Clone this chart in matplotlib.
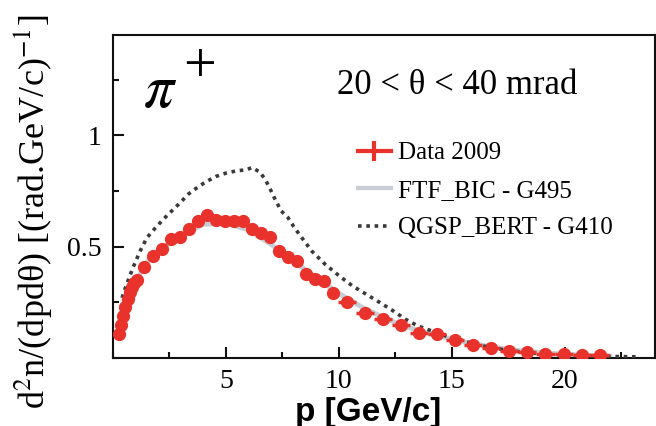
import numpy as np
import matplotlib.pyplot as plt
from matplotlib.lines import Line2D
from matplotlib.ticker import MultipleLocator

plt.rcParams['font.family'] = ['Liberation Serif', 'DejaVu Serif']
plt.rcParams['mathtext.fontset'] = 'stix'

# measured pi+ spectrum, 20 < theta < 40 mrad
p_data = [0.25, 0.35, 0.45, 0.55, 0.65, 0.75, 0.85, 0.95, 1.05,
          1.35, 1.75, 2.15, 2.55, 2.95, 3.35, 3.75, 4.15, 4.55, 4.95,
          5.35, 5.75, 6.15, 6.55, 6.95, 7.35, 7.75, 8.15, 8.55, 8.95,
          9.35, 9.75, 10.35, 11.15, 11.95, 12.75, 13.55, 14.35, 15.15,
          15.95, 16.75, 17.55, 18.35, 19.15, 19.95, 20.75, 21.55]
dn_data = [0.110, 0.150, 0.190, 0.230, 0.265, 0.295, 0.320, 0.335, 0.350,
           0.410, 0.460, 0.490, 0.535, 0.545, 0.577, 0.614, 0.640, 0.620, 0.614,
           0.617, 0.617, 0.580, 0.560, 0.545, 0.480, 0.452, 0.437, 0.375, 0.355,
           0.345, 0.294, 0.252, 0.203, 0.177, 0.150, 0.114, 0.108, 0.082,
           0.060, 0.045, 0.033, 0.026, 0.020, 0.018, 0.014, 0.012]
p_halfbin = [0.05] * 9 + [0.2] * 22 + [0.4] * 15
dn_err = [0.012] * 9 + [0.015] * 22 + [0.008] * 15

# FTF_BIC (Geant4 9.5)
p_ftf = [0.2, 0.5, 1.0, 1.5, 2.0, 3.0, 4.0, 5.0, 6.0, 7.0, 8.0, 9.0, 10.0,
         11.0, 12.0, 13.0, 14.0, 15.0, 16.0, 17.0, 18.0, 19.0, 20.0, 21.0, 22.0]
dn_ftf = [0.10, 0.22, 0.34, 0.43, 0.48, 0.55, 0.60, 0.605, 0.575, 0.51, 0.435,
          0.36, 0.29, 0.23, 0.18, 0.14, 0.11, 0.085, 0.063, 0.046, 0.033,
          0.024, 0.017, 0.012, 0.008]

# QGSP_BERT (Geant4 4.10)
p_qgsp = [0.4, 0.6, 0.9, 1.2, 1.5, 1.9, 2.25, 2.6, 3.0, 3.35, 3.75, 4.1, 4.55,
          5.0, 5.45, 5.9, 6.15, 6.5, 6.75, 7.0, 7.2, 7.45, 7.75, 8.0, 8.25,
          8.8, 9.4, 10.0, 10.6, 11.2, 11.8, 12.4, 12.95, 13.5, 14.1, 14.7,
          15.3, 16.0, 17.0, 18.0, 19.0, 20.0, 21.0, 22.0, 23.3]
dn_qgsp = [0.27, 0.33, 0.41, 0.48, 0.54, 0.587, 0.625, 0.66, 0.70, 0.737, 0.767,
           0.79, 0.815, 0.83, 0.84, 0.845, 0.855, 0.835, 0.80, 0.75, 0.707, 0.66,
           0.63, 0.59, 0.555, 0.48, 0.42, 0.37, 0.324, 0.287, 0.25, 0.212,
           0.174, 0.144, 0.122, 0.10, 0.084, 0.062, 0.042, 0.028, 0.018,
           0.012, 0.009, 0.007, 0.005]

red = '#e8322b'

fig = plt.figure(figsize=(6.56, 4.26), dpi=100)
ax = fig.add_axes([0.1723, 0.1596, 0.8262, 0.7582])

ax.plot(p_ftf, dn_ftf, color='#c6ced4', lw=3.5, zorder=2)
ax.plot(p_qgsp, dn_qgsp, color='#3a3a3a', lw=2.6, ls=(0, (1, 1.3)), zorder=3)
ax.errorbar(p_data, dn_data, xerr=p_halfbin, yerr=dn_err, fmt='o', color=red,
            ms=8.5, mec=red, elinewidth=2.5, capsize=0, zorder=4)

ax.set_xlim(0, 24)
ax.set_ylim(0, 1.45)
ax.set_xticks([5, 10, 15, 20])
ax.xaxis.set_minor_locator(MultipleLocator(2.5))
ax.set_yticks([0.5, 1])
ax.set_yticklabels(['0.5', '1'])
ax.yaxis.set_minor_locator(MultipleLocator(0.25))
ax.tick_params(which='both', direction='in', top=False, right=False,
               labelsize=20, width=1.5, color='#111111')
ax.tick_params(which='major', length=8, pad=8)
ax.tick_params(which='minor', length=4)
for s in ax.spines.values():
    s.set_linewidth(1.5)
    s.set_color('#111111')

# particle label and angle bin
ax.text(143 / 656, 1 - 107 / 426, r'$\pi$', fontsize=43, transform=fig.transFigure,
        ha='left', va='baseline')
ax.text(183 / 656, 1 - 82 / 426, '+', fontsize=42, transform=fig.transFigure,
        ha='left', va='baseline')
fig.text(457 / 656, 1 - 85 / 426, '20 < θ < 40 mrad', fontsize=25,
         ha='center', va='center')

handles = [
    Line2D([], [], color=red, lw=3, marker='|', ms=14, mew=3),
    Line2D([], [], color='#c6ced4', lw=3),
    Line2D([], [], color='#3a3a3a', lw=2.6, ls=(0, (1, 1.3))),
]
labels = ['Data 2009', 'FTF_BIC - G495', 'QGSP_BERT - G410']
fig.legend(handles, labels, loc='upper left',
           bbox_to_anchor=(358 / 656, 1 - 142 / 426), frameon=False,
           fontsize=18, borderpad=0, borderaxespad=0, handlelength=1.3,
           handletextpad=0.3, labelspacing=0.6)

fig.text(33 / 656, 1 - 212 / 426, r'd$^{2}$n/(dpdθ) [(rad.GeV/c)$^{-1}$]',
         fontsize=26, rotation=90, ha='center', va='center')
fig.text(368 / 656, 1 - 412 / 426, 'p [GeV/c]', fontsize=24, fontweight='bold',
         family=['Liberation Sans', 'DejaVu Sans'], ha='center', va='center')

fig.savefig('out.png', dpi=100)
